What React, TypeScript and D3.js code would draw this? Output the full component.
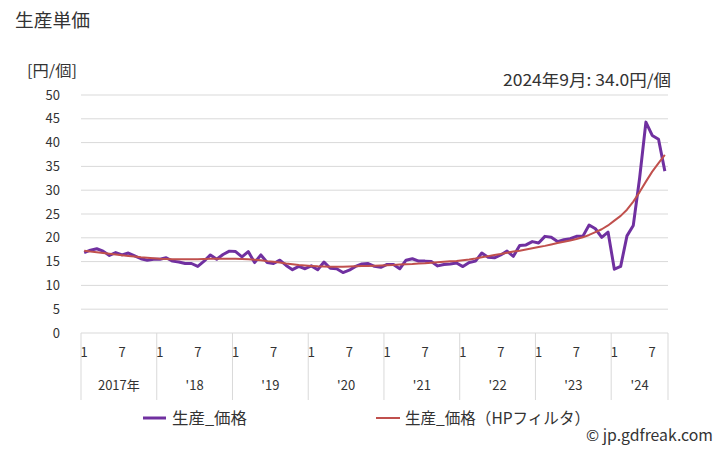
import * as d3 from 'd3'

const yearLabels = ['2017年', "'18", "'19", "'20", "'21", "'22", "'23", "'24"]
const monthTicks = ['1', '7']
const yTicks = [0, 5, 10, 15, 20, 25, 30, 35, 40, 45, 50]

// 生産_価格 (monthly, 2017-01 .. 2024-09)
const price2017 = [16.9, 17.4, 17.7, 17.2, 16.3, 16.9, 16.4, 16.8, 16.2, 15.6, 15.3, 15.5]
const price2018 = [15.5, 15.8, 15.1, 14.9, 14.6, 14.6, 14.0, 15.1, 16.4, 15.5, 16.5, 17.2]
const price2019 = [17.1, 16.0, 17.1, 14.8, 16.4, 14.8, 14.6, 15.3, 14.2, 13.3, 14.0, 13.5]
const price2020 = [14.1, 13.3, 14.9, 13.6, 13.5, 12.7, 13.2, 14.0, 14.5, 14.6, 14.0, 13.8]
const price2021 = [14.4, 14.4, 13.5, 15.3, 15.6, 15.1, 15.1, 15.0, 14.1, 14.4, 14.5, 14.7]
const price2022 = [13.95, 14.8, 15.1, 16.8, 15.9, 15.8, 16.4, 17.2, 16.1, 18.4, 18.5, 19.2]
const price2023 = [18.9, 20.3, 20.1, 19.2, 19.6, 19.8, 20.3, 20.3, 22.7, 21.9, 20.1, 21.2]
const price2024 = [13.4, 14.0, 20.4, 22.6, 32.5, 44.3, 41.5, 40.7, 34.0]

// 生産_価格（HPフィルタ）
const hp2017 = [17.3, 17.1, 16.95, 16.8, 16.65, 16.5, 16.35, 16.2, 16.05, 15.9, 15.8, 15.7]
const hp2018 = [15.6, 15.55, 15.5, 15.5, 15.5, 15.5, 15.5, 15.55, 15.6, 15.6, 15.6, 15.6]
const hp2019 = [15.6, 15.55, 15.5, 15.4, 15.3, 15.1, 14.95, 14.8, 14.6, 14.45, 14.3, 14.2]
const hp2020 = [14.1, 14.0, 13.95, 13.9, 13.9, 13.9, 13.95, 14.0, 14.05, 14.1, 14.15, 14.2]
const hp2021 = [14.25, 14.3, 14.4, 14.45, 14.5, 14.6, 14.65, 14.75, 14.85, 14.95, 15.05, 15.15]
const hp2022 = [15.3, 15.45, 15.65, 15.9, 16.15, 16.4, 16.6, 16.85, 17.1, 17.3, 17.55, 17.8]
const hp2023 = [18.05, 18.3, 18.6, 18.9, 19.15, 19.45, 19.75, 20.1, 20.6, 21.2, 21.8, 22.6]
const hp2024 = [23.6, 24.6, 25.9, 27.6, 29.6, 31.8, 33.9, 35.7, 37.4]

const price = [...price2017, ...price2018, ...price2019, ...price2020, ...price2021, ...price2022, ...price2023, ...price2024]
const hp = [...hp2017, ...hp2018, ...hp2019, ...hp2020, ...hp2021, ...hp2022, ...hp2023, ...hp2024]

const W = 728
const H = 450
const margin = { top: 95, right: 60, bottom: 117, left: 81 }
const font = "'Noto Sans CJK JP', 'Noto Sans', sans-serif"

export default function App() {
  const months = d3.range(price.length)
  const x = d3.scaleBand<number>().domain(months).range([margin.left, W - margin.right])
  const y = d3.scaleLinear().domain([0, 50]).range([H - margin.bottom, margin.top])
  const cx = (i: number) => (x(i) ?? 0) + x.bandwidth() / 2

  const line = d3
    .line<number>()
    .x((d, i) => cx(i))
    .y((d) => y(d))

  const y0 = y(0)
  // year boundaries
  const yearStarts = yearLabels.map((_, k) => x(k * 12) ?? 0)
  const edges = [...yearStarts, W - margin.right]

  return (
    <div style={{ position: 'absolute', left: 0, top: 0 }}>
      <svg width={W} height={H} style={{ display: 'block', background: '#fff' }} fontFamily={font}>
        <text x={15} y={27} fontSize={18} fill="#333" textLength={75} lengthAdjust="spacingAndGlyphs">
          生産単価
        </text>
        <text x={27} y={76} fontSize={15} fill="#333" textLength={50} lengthAdjust="spacingAndGlyphs">
          [円/個]
        </text>
        <text x={503} y={86} fontSize={16} fill="#333" textLength={168} lengthAdjust="spacingAndGlyphs">
          2024年9月: 34.0円/個
        </text>

        {yTicks.map((t) => (
          <g key={t}>
            <line x1={margin.left} x2={W - margin.right} y1={y(t)} y2={y(t)} stroke="#d9d9d9" strokeWidth={1} />
            <text x={60} y={y(t) + 4.5} fontSize={13} textAnchor="end" fill="#333">
              {t}
            </text>
          </g>
        ))}

        {edges.map((ex, k) => (
          <line key={k} x1={ex} x2={ex} y1={y0} y2={y0 + 67} stroke="#d9d9d9" strokeWidth={1} />
        ))}

        {yearLabels.map((lab, k) => (
          <g key={lab}>
            {monthTicks.map((m, j) =>
              k * 12 + j * 6 < price.length ? (
                <text key={m} x={cx(k * 12 + j * 6)} y={y0 + 24} fontSize={13} textAnchor="middle" fill="#333">
                  {m}
                </text>
              ) : null
            )}
            <text x={(edges[k] + edges[k + 1]) / 2} y={y0 + 57} fontSize={13} textAnchor="middle" fill="#333">
              {lab}
            </text>
          </g>
        ))}

        <path d={line(price) ?? ''} fill="none" stroke="#7030A0" strokeWidth={3} strokeLinejoin="round" />
        <path d={line(hp) ?? ''} fill="none" stroke="#C0504D" strokeWidth={2} strokeLinejoin="round" />

        <line x1={143} x2={166} y1={418} y2={418} stroke="#7030A0" strokeWidth={3} />
        <text x={172} y={424} fontSize={16} fill="#333" textLength={75} lengthAdjust="spacingAndGlyphs">
          生産_価格
        </text>
        <line x1={376} x2={400} y1={418} y2={418} stroke="#C0504D" strokeWidth={2} />
        <text x={405} y={424} fontSize={16} fill="#333" textLength={185} lengthAdjust="spacingAndGlyphs">
          生産_価格（HPフィルタ）
        </text>

        <text x={586} y={441} fontSize={15} fill="#333" textLength={127} lengthAdjust="spacingAndGlyphs">
          © jp.gdfreak.com
        </text>
      </svg>
    </div>
  )
}
